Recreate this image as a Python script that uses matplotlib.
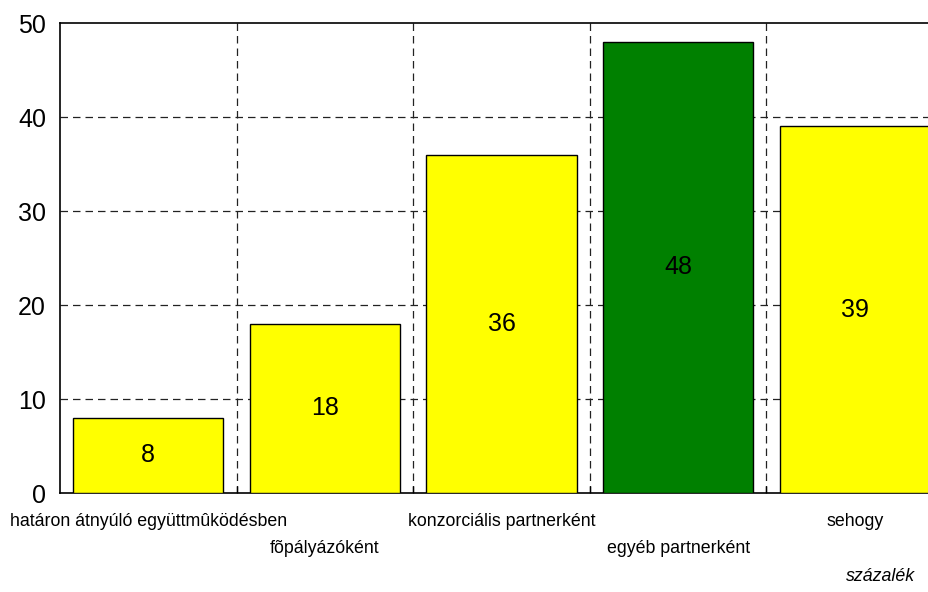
import numpy as np
import matplotlib.pyplot as plt
from matplotlib.ticker import FixedLocator

plt.rcParams['font.family'] = ['Liberation Sans', 'DejaVu Sans']

categories = ['határon átnyúló együttmûködésben', 'fõpályázóként',
              'konzorciális partnerként', 'egyéb partnerként', 'sehogy']
values = [8, 18, 36, 48, 39]
colors = ['#ffff00', '#ffff00', '#ffff00', '#008000', '#ffff00']

fig = plt.figure(figsize=(9.29, 5.92), dpi=100)
ax = fig.add_axes([0.0646, 0.1672, 0.9505, 0.7939])

x = np.arange(len(categories))
bars = ax.bar(x, values, width=0.85, color=colors, edgecolor='black', linewidth=1, zorder=3)

for b, v in zip(bars, values):
    ax.text(b.get_x() + b.get_width() / 2, v / 2, str(v), ha='center', va='center',
            fontsize=18, zorder=4)

ax.set_xlim(-0.5, len(categories) - 0.5)
ax.set_ylim(0, 50)
ax.set_yticks(range(0, 51, 10))
ax.tick_params(axis='y', length=0, labelsize=18, pad=10)

# category labels staggered on two rows
ax.set_xticks(x)
ax.set_xticklabels([])
ax.tick_params(axis='x', which='major', length=0)
for i, c in enumerate(categories):
    yoff = -0.06 if i % 2 == 0 else -0.118
    ax.text(i, yoff, c, transform=ax.get_xaxis_transform(), ha='center', va='center',
            fontsize=12.8)

bounds = np.arange(0.5, len(categories) - 0.5, 1)
ax.xaxis.set_minor_locator(FixedLocator(bounds))
ax.tick_params(axis='x', which='minor', direction='in', length=5, width=1)

for yv in range(10, 50, 10):
    ax.axhline(yv, color='#222222', linestyle=(0, (6, 4)), linewidth=0.9, zorder=1)
for xv in bounds:
    ax.axvline(xv, color='#222222', linestyle=(0, (6, 4)), linewidth=0.9, zorder=1)

for s in ['left', 'bottom', 'top']:
    ax.spines[s].set_linewidth(1.2)

fig.text(0.948, 0.012, 'százalék', ha='center', va='bottom', fontsize=12.8, style='italic')

fig.savefig('out.png', dpi=100)
